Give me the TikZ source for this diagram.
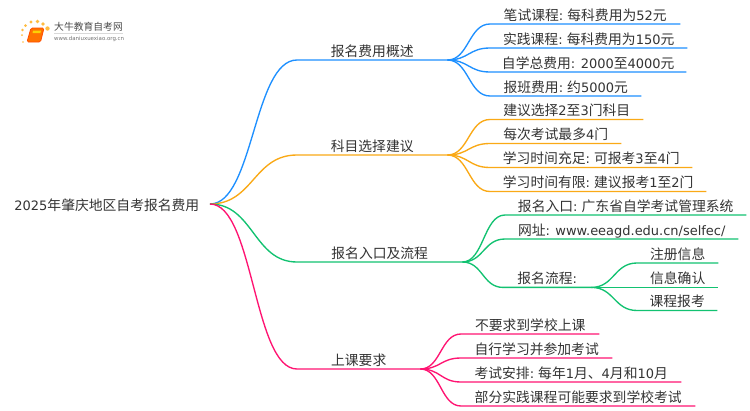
\documentclass[tikz,border=0pt]{standalone}
\usepackage{fontspec}
\setmainfont{Noto Sans CJK SC}
\newfontfamily\latfont[Scale=0.94]{DejaVu Sans}
\newcommand{\lat}[1]{{\latfont #1}}
\definecolor{cblue}{HTML}{1E90FF}
\definecolor{corange}{HTML}{FAA916}
\definecolor{cgreen}{HTML}{12C271}
\definecolor{cpink}{HTML}{FF1472}
\definecolor{ctext}{HTML}{333333}
\tikzset{
  x=1pt,y=-1pt,
  topic/.style={anchor=south west,inner xsep=0pt,inner ysep=0pt,text height=13.5pt,text depth=3.5pt,
     font=\fontsize{13.8}{14}\selectfont,text=ctext,align=center},
  conn/.style={line width=1.35pt},
  rootlabel/.style={anchor=east,inner sep=0pt,font=\fontsize{13.8}{14}\selectfont,text=ctext},
  logotext/.style={anchor=west,inner sep=0pt,text=black!70}
}
\newcommand{\lk}[3]{% colour, from, to: smooth branch and underline
  \draw[conn,#1] (#2) .. controls ($(#2)!0.5!(#2 -| #3.south west)$) and ($(#3.south west)!0.5!(#2 |- #3.south west)$) .. (#3.south west) -- (#3.south east);}
\usetikzlibrary{calc}
\begin{document}
\begin{tikzpicture}
\useasboundingbox (0,0) rectangle (750,410);
\fill[white] (0,0) rectangle (750,410);
% logo
\foreach \a/\b/\s in {23/42/1.6,22/35/2,22.5/30/2.6,25.5/25.5/3,31/22/3.4,37.5/21.5/3.6,43/24/3.6,47.5/28.5/4.4}
  \fill[orange!70!yellow,opacity=.75] (\a,\b) circle (\s*0.5);
\fill[orange!90!red,rounded corners=1.5pt] (31,28) -- (44,28) -- (40.5,42) -- (27,42) -- cycle;
\draw[orange!60!red,line width=.8pt,rounded corners=1.5pt] (31,28) -- (44,28) -- (40.5,42) -- (27,42) -- cycle;
\fill[yellow!70!orange] (33,30.5) -- (41,30.5) -- (40.4,33) -- (32.5,33) -- cycle;
\node[logotext,font=\fontsize{9.8}{10}\selectfont] (logoa) at (54,27) {大牛教育自考网};
\node[logotext,font=\fontsize{5.8}{6}\selectfont,text=black!55] (logob) at (54,39) {\lat{www.daniuxuexiao.org.cn}};
\draw[black!15,line width=.5pt] (54,33.5) -- (123,33.5);
% root
\node[rootlabel] (root) at (199.5,205) {\lat{2025}年肇庆地区自考报名费用};
\coordinate (r) at (210,204);
% level 1
\node[topic,minimum width=150pt] (a) at (297,60) {报名费用概述};
\node[topic,minimum width=150pt] (b) at (297,155) {科目选择建议};
\node[topic,minimum width=165pt] (c) at (297,262) {报名入口及流程};
\node[topic,minimum width=123pt] (d) at (297,369) {上课要求};
\lk{cblue}{r}{a}\lk{corange}{r}{b}\lk{cgreen}{r}{c}\lk{cpink}{r}{d}
\coordinate (ae) at (a.south east);\coordinate (be) at (b.south east);
\coordinate (ce) at (c.south east);\coordinate (de) at (d.south east);
% blue
\node[topic,minimum width=190pt] (a1) at (490,24) {笔试课程\lat{:} 每科费用为\lat{52}元};
\node[topic,minimum width=197pt] (a2) at (490,48) {实践课程\lat{:} 每科费用为\lat{150}元};
\node[topic,minimum width=196pt] (a3) at (490,72) {自学总费用\lat{: 2000}至\lat{4000}元};
\node[topic,minimum width=151pt] (a4) at (490,96) {报班费用\lat{:} 约\lat{5000}元};
\foreach \n in {a1,a2,a3,a4}{\lk{cblue}{ae}{\n}}
% orange
\node[topic,minimum width=153pt] (b1) at (490,119.5) {建议选择\lat{2}至\lat{3}门科目};
\node[topic,minimum width=131pt] (b2) at (490,143.5) {每次考试最多\lat{4}门};
\node[topic,minimum width=202pt] (b3) at (490,167.5) {学习时间充足\lat{:} 可报考\lat{3}至\lat{4}门};
\node[topic,minimum width=216pt] (b4) at (490,191.5) {学习时间有限\lat{:} 建议报考\lat{1}至\lat{2}门};
\foreach \n in {b1,b2,b3,b4}{\lk{corange}{be}{\n}}
% green
\node[topic,minimum width=241pt] (c1) at (505,215) {报名入口\lat{:} 广东省自学考试管理系统};
\node[topic,minimum width=233pt] (c2) at (505,239) {网址\lat{: www.eeagd.edu.cn/selfec/}};
\node[topic,minimum width=88pt] (c3) at (503,287.4) {报名流程\lat{:}};
\foreach \n in {c1,c2,c3}{\lk{cgreen}{ce}{\n}}
\coordinate (c3e) at (c3.south east);
\node[topic,minimum width=81pt] (c31) at (637,263) {注册信息};
\node[topic,minimum width=81pt] (c32) at (637,287.4) {信息确认};
\node[topic,minimum width=80pt] (c33) at (637,310.5) {课程报考};
\foreach \n in {c31,c32,c33}{\lk{cgreen}{c3e}{\n}}
% pink
\node[topic,minimum width=138pt] (d1) at (461,334) {不要求到学校上课};
\node[topic,minimum width=151pt] (d2) at (461,358) {自行学习并参加考试};
\node[topic,minimum width=220pt] (d3) at (461,382) {考试安排\lat{:} 每年\lat{1}月、\lat{4}月和\lat{10}月};
\node[topic,minimum width=234pt] (d4) at (461,406) {部分实践课程可能要求到学校考试};
\foreach \n in {d1,d2,d3,d4}{\lk{cpink}{de}{\n}}
\end{tikzpicture}
\end{document}
